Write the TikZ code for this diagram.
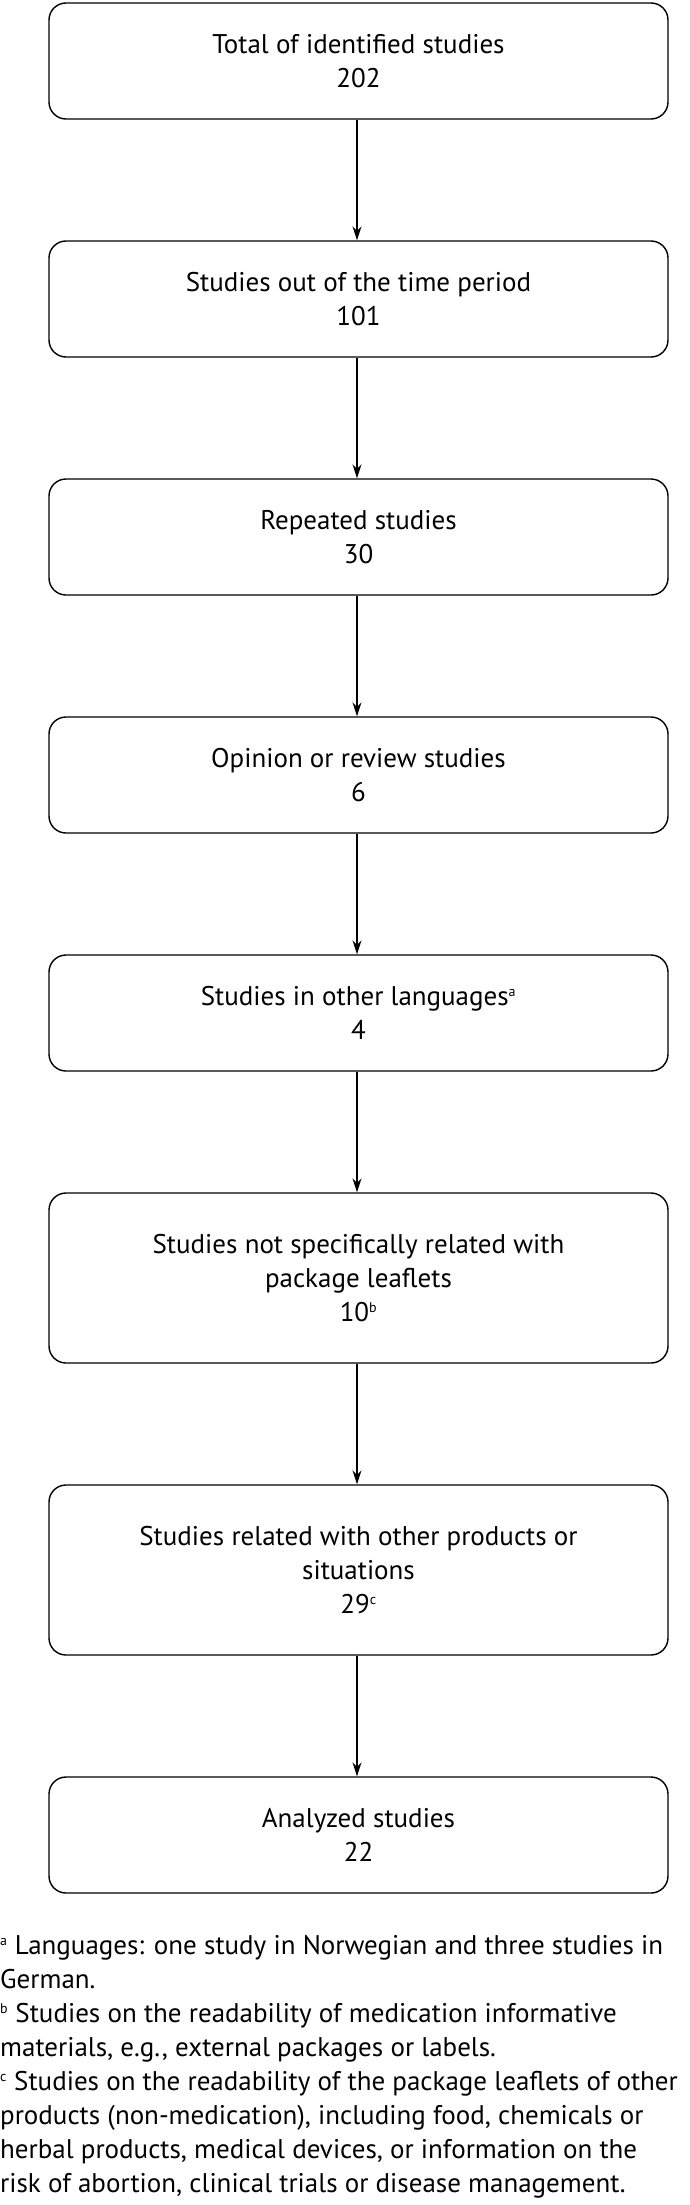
\documentclass[tikz,border=0pt]{standalone}
\usepackage{fontspec}
\setmainfont{PT Sans}
\usetikzlibrary{arrows.meta}
\tikzset{
  flowbox/.style={draw=black, line width=1.4pt, rounded corners=17pt, minimum width=619pt, align=center, inner sep=0pt, font=\fontsize{27}{34}\selectfont},
  smallbox/.style={flowbox, minimum height=116pt},
  bigbox/.style={flowbox, minimum height=170pt},
  flowarrow/.style={draw=black, line width=1.2pt, -{Stealth[length=14pt, width=9pt]}}
}
\newcommand{\fnmark}[1]{\textsuperscript{\fontsize{14}{14}\selectfont #1}}
\begin{document}
\begin{tikzpicture}[x=1pt,y=1pt]
\useasboundingbox (0,0) rectangle (690,-2205);
\node[smallbox] (b1) at (358.5,-61) {Total of identified studies\\202};
\node[smallbox] (b2) at (358.5,-299) {Studies out of the time period\\101};
\node[smallbox] (b3) at (358.5,-537) {Repeated studies\\30};
\node[smallbox] (b4) at (358.5,-775) {Opinion or review studies\\6};
\node[smallbox] (b5) at (358.5,-1013) {Studies in other languages\fnmark{a}\\4};
\node[bigbox] (b6) at (358.5,-1278) {Studies not specifically related with\\package leaflets\\10\fnmark{b}};
\node[bigbox] (b7) at (358.5,-1570) {Studies related with other products or\\situations\\29\fnmark{c}};
\node[smallbox] (b8) at (358.5,-1835) {Analyzed studies\\22};
\foreach \a/\b in {b1/b2,b2/b3,b3/b4,b4/b5,b5/b6,b6/b7,b7/b8}
  \draw[flowarrow] ([xshift=-1.5pt]\a.south) -- ([xshift=-1.5pt]\b.north);
\node[anchor=north west, inner sep=0pt, align=left, font=\fontsize{27}{34}\selectfont] (notes) at (0,-1935)
{\fnmark{a} Languages: one study in Norwegian and three studies in\\
German.\\
\fnmark{b} Studies on the readability of medication informative\\
materials, e.g., external packages or labels.\\
\fnmark{c} Studies on the readability of the package leaflets of other\\
products (non-medication), including food, chemicals or\\
herbal products, medical devices, or information on the\\
risk of abortion, clinical trials or disease management.};
\end{tikzpicture}
\end{document}
